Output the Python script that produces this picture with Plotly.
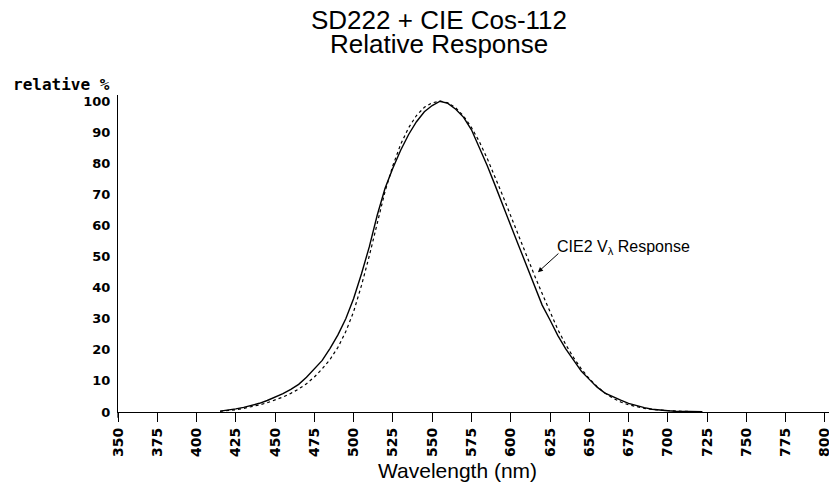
import plotly.graph_objects as go

# SD222 + Cos-112 measured relative response (solid)
sd_wl = [415, 420, 425, 430, 435, 440, 445, 450, 455, 460, 465, 470, 475, 480, 485,
         490, 495, 500, 505, 510, 515, 520, 525, 530, 535, 540, 545, 550, 555, 560,
         565, 570, 575, 580, 585, 590, 595, 600, 605, 610, 615, 620, 625, 630, 635,
         640, 645, 650, 655, 660, 665, 670, 675, 680, 685, 690, 695, 700, 705, 710,
         715, 720, 722]
sd_val = [0.3, 0.6, 1.0, 1.5, 2.1, 2.8, 3.7, 4.7, 5.9, 7.3, 8.9, 11.2, 13.8, 16.6, 20.5,
          24.8, 30.0, 36.5, 44.5, 53.2, 63.3, 72.0, 78.5, 84.3, 89.3, 93.4, 96.6, 98.6, 100.0, 99.3,
          97.4, 94.8, 90.8, 85.2, 79.3, 73.0, 66.8, 60.0, 53.6, 47.0, 40.6, 34.4, 29.6, 24.6, 20.3,
          16.5, 13.1, 10.5, 8.0, 6.1, 4.9, 3.8, 2.8, 2.0, 1.4, 0.9, 0.6, 0.4, 0.25, 0.15,
          0.1, 0.1, 0.1]

# CIE2 V-lambda response (dotted)
v_wl = [415, 420, 425, 430, 435, 440, 445, 450, 455, 460, 465, 470, 475, 480, 485,
        490, 495, 500, 505, 510, 515, 520, 525, 530, 535, 540, 545, 550, 555, 560,
        565, 570, 575, 580, 585, 590, 595, 600, 605, 610, 615, 620, 625, 630, 635,
        640, 645, 650, 655, 660, 665, 670, 675, 680, 685, 690, 695, 700, 705, 710,
        715, 720]
v_val = [0.22, 0.40, 0.73, 1.16, 1.68, 2.30, 2.98, 3.80, 4.80, 6.00, 7.39, 9.10, 11.26, 13.90, 16.93,
         20.80, 25.86, 32.30, 40.73, 50.30, 60.82, 71.00, 79.32, 86.20, 91.49, 95.40, 98.03, 99.50, 100.0, 99.50,
         97.86, 95.20, 91.54, 87.00, 81.63, 75.70, 69.49, 63.10, 56.68, 50.30, 44.12, 38.10, 32.10, 26.50, 21.70,
         17.50, 13.82, 10.70, 8.16, 6.10, 4.46, 3.20, 2.32, 1.70, 1.19, 0.82, 0.57, 0.41, 0.29, 0.21,
         0.15, 0.10]

x_ticks = [350, 375, 400, 425, 450, 475, 500, 525, 550, 575, 600, 625, 650, 675, 700, 725, 750, 775, 800]
y_ticks = [0, 10, 20, 30, 40, 50, 60, 70, 80, 90, 100]

title_lines = ["SD222 + CIE Cos-112", "Relative Response"]
x_title = "Wavelength (nm)"
y_title = "relative %"
note_text = "CIE2 V<sub>λ</sub> Response"

fig = go.Figure()
fig.add_trace(go.Scatter(x=v_wl, y=v_val, mode="lines",
                         line=dict(color="black", width=1.2, dash="dot"),
                         showlegend=False, hoverinfo="skip"))
fig.add_trace(go.Scatter(x=sd_wl, y=sd_val, mode="lines",
                         line=dict(color="black", width=1.4),
                         showlegend=False, hoverinfo="skip"))

# the page body adds an 8 px offset, so the figure is sized/offset to compensate
fig.update_layout(
    width=829, height=478,
    margin=dict(l=110, r=5, t=87, b=74),
    paper_bgcolor="white", plot_bgcolor="white",
    showlegend=False,
    xaxis=dict(range=[350, 804.5], tickvals=x_ticks, ticktext=[str(v) for v in x_ticks],
               tickangle=-90, ticks="outside", ticklen=9, tickwidth=1, tickcolor="black",
               showline=True, linecolor="black", linewidth=1.2, showgrid=False, zeroline=False,
               automargin=False,
               tickfont=dict(family="DejaVu Sans", size=14, color="black", weight="bold")),
    yaxis=dict(range=[0, 102], tickvals=y_ticks, ticktext=[str(v) for v in y_ticks],
               ticks="", showline=True, linecolor="black", linewidth=1.2, showgrid=False,
               zeroline=False, ticklabelstandoff=4, automargin=False,
               tickfont=dict(family="DejaVu Sans", size=13, color="black", weight="bold")),
)

# y-axis line slightly extended below the x axis
fig.add_shape(type="line", xref="paper", yref="paper", x0=0, x1=0, y0=-0.018, y1=0,
              line=dict(color="black", width=1.2))

fig.add_annotation(text=title_lines[0], xref="paper", yref="paper", x=0.4496, y=1.238,
                   xanchor="center", yanchor="middle", showarrow=False, borderpad=0,
                   font=dict(family="Liberation Sans", size=26, color="black"))
fig.add_annotation(text=title_lines[1], xref="paper", yref="paper", x=0.4496, y=1.161,
                   xanchor="center", yanchor="middle", showarrow=False, borderpad=0,
                   font=dict(family="Liberation Sans", size=26, color="black"))
fig.add_annotation(text=y_title, xref="paper", yref="paper", x=-0.079, y=1.033,
                   xanchor="center", yanchor="middle", showarrow=False, borderpad=0,
                   font=dict(family="DejaVu Sans Mono", size=16, color="black", weight="bold"))
fig.add_annotation(text=x_title, xref="paper", yref="paper", x=0.475, y=-0.185,
                   xanchor="center", yanchor="middle", showarrow=False,
                   font=dict(family="Liberation Sans", size=21, color="black"))

# arrow pointing at the V-lambda curve
fig.add_annotation(text="", x=617.3, y=45.0, xref="x", yref="y", showarrow=True,
                   ax=22, ay=-20, arrowhead=2, arrowsize=1, arrowwidth=1, arrowcolor="black")
fig.add_annotation(text=note_text, x=628.0, y=53.0, xref="x", yref="y", showarrow=False,
                   xanchor="left", yanchor="middle",
                   font=dict(family="Liberation Sans", size=16, color="black"))

fig.write_html("out.html")
